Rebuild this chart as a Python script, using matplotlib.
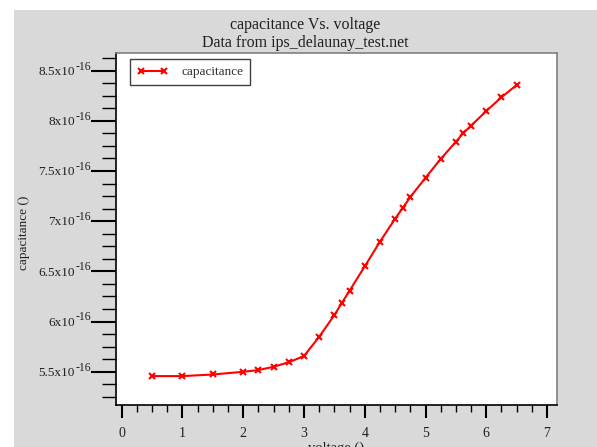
import matplotlib.pyplot as plt
from matplotlib.patches import Rectangle
from matplotlib.ticker import MultipleLocator, FuncFormatter

# datos (voltaje, capacitancia en unidades de 1e-16)
voltage = [0.5, 1.0, 1.5, 2.0, 2.25, 2.5, 2.75, 3.0, 3.25, 3.5, 3.625, 3.75,
           4.0, 4.25, 4.5, 4.625, 4.75, 5.0, 5.25, 5.5, 5.625, 5.75, 6.0, 6.25, 6.5]
capacitance = [5.456, 5.456, 5.472, 5.499, 5.516, 5.549, 5.594, 5.656, 5.848, 6.064,
               6.187, 6.307, 6.550, 6.795, 7.025, 7.131, 7.241, 7.433, 7.620, 7.792,
               7.879, 7.952, 8.098, 8.235, 8.357]
scale = 1e-16
exponente = "-16"
cap_values = [c * scale for c in capacitance]

titulo = "capacitance Vs. voltage\nData from ips_delaunay_test.net"
serie = "capacitance"

plt.rcParams['font.family'] = ['Liberation Serif', 'DejaVu Serif']
texto = '#202020'

W, H = 597, 447
fig = plt.figure(figsize=(W / 100, H / 100), dpi=100)
fig.patch.set_facecolor('white')
# fondo gris
fig.patches.append(Rectangle((14 / W, 0), 1 - 14 / W, 1 - 10 / H,
                             transform=fig.transFigure, facecolor='#d9d9d9',
                             edgecolor='none', zorder=-10))

ax = fig.add_axes([116 / W, 1 - 405 / H, (557 - 116) / W, (405 - 53) / H])
ax.set_facecolor('white')

ax.plot(voltage, cap_values, color='red', marker='x', markersize=5,
        markeredgewidth=1.5, linewidth=1.5, label=serie)

ax.set_xlim(-0.094, 7.164)
ax.set_ylim(5.168 * scale, 8.676 * scale)

ax.xaxis.set_major_locator(MultipleLocator(1))
ax.xaxis.set_minor_locator(MultipleLocator(0.25))
ax.yaxis.set_major_locator(MultipleLocator(0.5 * scale))
ax.yaxis.set_minor_locator(MultipleLocator(0.125 * scale))
ax.xaxis.set_major_formatter(FuncFormatter(lambda v, p: f"{v:g}"))

ax.tick_params(axis='y', which='major', direction='out', length=18, width=1.5,
               labelleft=False, color='black')
ax.tick_params(axis='y', which='minor', direction='out', length=10, width=1, color='black')
ax.tick_params(axis='x', which='major', direction='out', length=9, width=1.5,
               labelsize=10, pad=7, color='black', labelcolor=texto)
ax.tick_params(axis='x', which='minor', direction='out', length=5, width=1, color='black')

# etiquetas del eje y con exponente grande (m x10^-16)
y0, y1 = ax.get_ylim()
for v in ax.get_yticks():
    if v < y0 or v > y1:
        continue
    ax.annotate(f"{v / scale:g}x10", xy=(0, v), xycoords=('axes fraction', 'data'),
                xytext=(-29.5, -3.1), textcoords='offset points',
                ha='right', va='baseline', fontsize=9.5, color=texto)
    ax.annotate(exponente, xy=(0, v), xycoords=('axes fraction', 'data'),
                xytext=(-29.2, 0.8), textcoords='offset points',
                ha='left', va='baseline', fontsize=8.5, color=texto)

for s in ['left', 'bottom']:
    ax.spines[s].set_color('black')
    ax.spines[s].set_linewidth(1.2)
for s in ['top', 'right']:
    ax.spines[s].set_color('#808080')
    ax.spines[s].set_linewidth(1.2)

ax.set_xlabel("voltage ()", fontsize=10.5, labelpad=1, color=texto)
ax.set_ylabel("capacitance ()", fontsize=9.5, color=texto)
ax.yaxis.set_label_coords((30 - 116) / 441, 0.489)

fig.text(305.5 / W, 1 - 17 / H, titulo, ha='center', va='top', fontsize=11.5,
         linespacing=1.15, color=texto)

leg = ax.legend(loc='upper left', bbox_to_anchor=(0.0317, 0.982), numpoints=2,
                fancybox=False, edgecolor='#404040', framealpha=1, fontsize=9.5,
                handlelength=2.4, borderpad=0.5, handletextpad=1.0,
                borderaxespad=0)
leg.get_frame().set_linewidth(1)
for t in leg.get_texts():
    t.set_color('#303030')

fig.savefig('out.png', dpi=100)
